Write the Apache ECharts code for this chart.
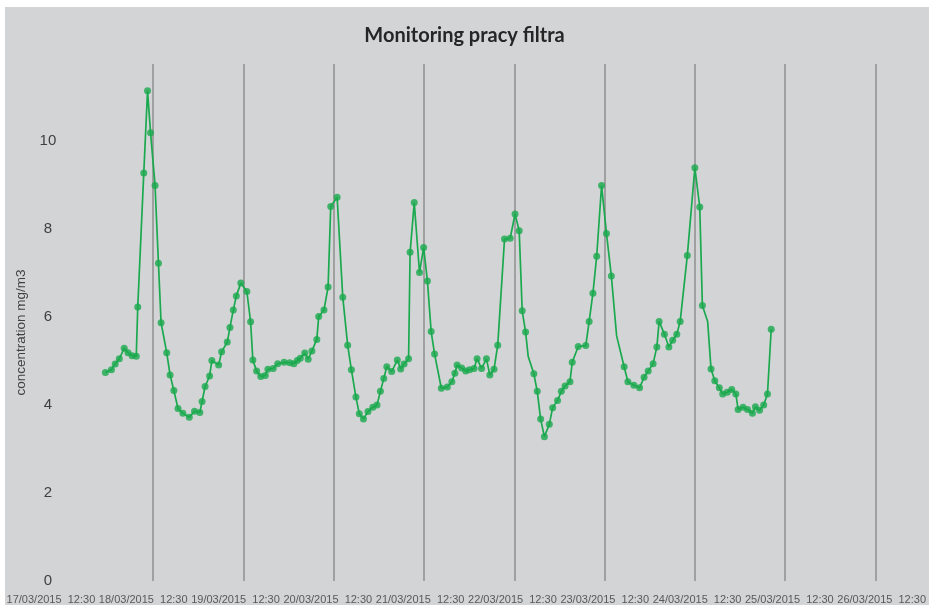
<!DOCTYPE html>
<html><head><meta charset="utf-8">
<script src="https://cdn.jsdelivr.net/npm/echarts@6/dist/echarts.min.js"></script>
<style>
html,body{margin:0;padding:0;background:#fff;overflow:hidden;}
#bg{position:absolute;left:5px;top:7px;width:924px;height:598px;background:#d3d4d6;}
#chart{position:absolute;left:0;top:0;width:929px;height:605px;}
</style></head><body><div id="bg"></div><div id="chart"></div>
<script>
// Hours since 17/03/2015 12:30 and measured concentration (mg/m3) — marked readings
const hoursSinceStart = [
  11.3,12.9,13.9,15.0,16.3,17.3,18.4,19.5,19.9,21.5,22.5,23.3,24.5,25.4,26.1,27.6,28.5,29.5,30.6,31.9,
  33.6,35.0,36.4,37.0,37.8,39.0,39.6,41.4,42.2,43.7,44.4,45.3,46.1,47.3,48.9,49.9,50.5,51.5,52.6,53.8,
  54.5,55.9,57.1,58.8,60.3,61.4,62.3,63.1,64.3,65.2,66.2,67.5,68.0,69.4,70.5,71.2,72.9,74.4,75.7,76.7,
  77.9,78.8,79.9,81.1,82.4,83.5,84.4,85.3,86.1,87.4,88.9,89.8,90.7,91.9,92.3,93.4,94.8,95.9,96.9,97.9,
  98.8,100.6,102.2,103.4,104.2,104.8,106.0,107.1,108.1,109.3,110.1,111.3,112.6,113.5,114.6,115.6,117.4,118.9,120.2,121.3,
  122.1,123.0,125.2,126.1,127.0,128.0,129.3,130.2,131.5,132.5,133.5,134.8,135.4,137.0,139.0,139.9,140.9,141.9,143.2,144.5,
  145.8,149.2,150.2,151.8,153.3,154.5,155.6,156.9,157.9,158.5,159.9,161.1,162.1,163.2,164.1,166.0,168.0,169.3,170.0,172.3,
  173.3,174.5,175.4,176.6,177.8,178.9,179.5,180.8,182.0,183.3,184.1,185.2,186.3,187.3,188.3
];
const concentration = [
  4.74,4.80,4.93,5.05,5.29,5.19,5.12,5.11,6.23,9.27,11.14,10.19,8.99,7.22,5.87,5.19,4.68,4.33,3.92,3.81,
  3.72,3.86,3.83,4.08,4.42,4.66,5.01,4.91,5.21,5.43,5.76,6.16,6.48,6.77,6.58,5.89,5.02,4.77,4.65,4.67,
  4.81,4.83,4.94,4.97,4.96,4.94,5.01,5.06,5.18,5.04,5.23,5.49,6.01,6.16,6.68,8.51,8.72,6.45,5.36,4.80,
  4.18,3.80,3.68,3.85,3.95,4.00,4.31,4.60,4.87,4.76,5.02,4.82,4.93,5.05,7.47,8.60,7.01,7.58,6.82,5.67,
  5.16,4.38,4.41,4.53,4.72,4.91,4.84,4.77,4.80,4.83,5.05,4.83,5.05,4.68,4.81,5.36,7.77,7.79,8.34,7.96,
  6.14,5.66,4.71,4.31,3.68,3.28,3.56,3.94,4.10,4.31,4.43,4.53,4.97,5.33,5.35,5.90,6.54,7.38,8.99,7.90,
  6.93,4.87,4.53,4.45,4.39,4.63,4.77,4.94,5.32,5.90,5.61,5.32,5.47,5.61,5.90,7.40,9.39,8.50,6.26,4.82,
  4.55,4.39,4.25,4.29,4.35,4.25,3.90,3.95,3.90,3.81,3.96,3.88,4.00,4.25,5.72
];
// Line vertices drawn without a marker
const unmarkedHours = [123.7, 147.2, 171.4];
const unmarkedConc = [5.10, 5.57, 5.90];

// Category labels along the bottom, one per day
const xTickLabels = [
  '17/03/2015  12:30','18/03/2015  12:30','19/03/2015  12:30','20/03/2015  12:30','21/03/2015  12:30',
  '22/03/2015  12:30','23/03/2015  12:30','24/03/2015  12:30','25/03/2015  12:30','26/03/2015  12:30'
];

const marked = hoursSinceStart.map((h, i) => [h, concentration[i]]);
const lineData = marked.concat(unmarkedHours.map((h, i) => [h, unmarkedConc[i]]))
  .sort((a, b) => a[0] - b[0]);

const green = '#1aa94e';
const chart = echarts.init(document.getElementById('chart'), null, {renderer: 'canvas'});
chart.setOption({
  animation: false,
  backgroundColor: 'transparent',
  title: {
    text: 'Monitoring pracy filtra',
    left: 'center',
    top: 21,
    textStyle: {fontFamily: 'Lato', fontWeight: 'bold', fontSize: 20, color: '#262626'}
  },
  grid: {left: 62.9, right: 0, top: 64, bottom: 24, containLabel: false},
  xAxis: [
    {
      type: 'value',
      min: 0, max: 230, interval: 24,
      axisLine: {show: false},
      axisTick: {show: false},
      axisLabel: {show: false},
      splitLine: {show: true, showMinLine: false, showMaxLine: false,
                  lineStyle: {color: '#8f8f8f', width: 1.5}}
    },
    {
      type: 'value',
      position: 'bottom',
      min: 0, max: 9.373, interval: 1,
      axisLine: {show: false},
      axisTick: {show: false},
      splitLine: {show: false},
      axisLabel: {
        show: true, margin: 13, fontSize: 11, color: '#595959',
        fontFamily: 'Liberation Sans', showMinLabel: true, showMaxLabel: false,
        padding: [0, 24, 0, 0],
        formatter: (v) => xTickLabels[Math.round(v)] || ''
      }
    }
  ],
  yAxis: {
    type: 'value',
    min: 0, max: 11.75, interval: 2,
    axisLine: {show: false},
    axisTick: {show: false},
    splitLine: {show: false},
    axisLabel: {
      margin: 15, align: 'center', fontSize: 15, color: '#404040',
      fontFamily: 'Liberation Sans', showMaxLabel: false
    },
    name: 'concentration mg/m3',
    nameLocation: 'middle',
    nameGap: 34,
    nameTextStyle: {fontSize: 13.5, color: '#404040', fontFamily: 'Liberation Sans',
                    padding: [0, 20, 0, 0]}
  },
  series: [
    {
      type: 'line', data: lineData, xAxisIndex: 0, showSymbol: false, symbol: 'none',
      lineStyle: {color: green, width: 1.7}, z: 2
    },
    {
      type: 'scatter', data: marked, xAxisIndex: 0, symbol: 'circle', symbolSize: 7,
      itemStyle: {color: green}, z: 3
    }
  ]
});
</script></body></html>
